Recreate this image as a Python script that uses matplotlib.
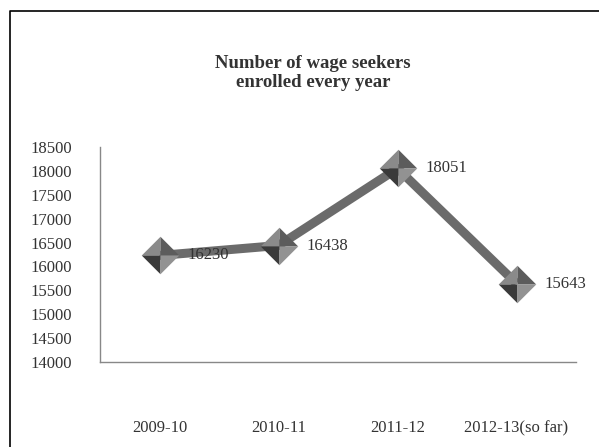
import matplotlib
matplotlib.use('Agg')
import matplotlib.pyplot as plt
from matplotlib.lines import Line2D

years = ['2009-10', '2010-11', '2011-12', '2012-13(so far)']
seekers = [16230, 16438, 18051, 15643]
yticks = [14000, 14500, 15000, 15500, 16000, 16500, 17000, 17500, 18000, 18500]

plt.rcParams['font.family'] = ['Liberation Serif', 'DejaVu Serif']

W, H = 599, 447
fig = plt.figure(figsize=(W / 100, H / 100), dpi=100)
# frame: only top and left edges are visible in the original
fig.lines.append(Line2D([9.5 / W, 9.5 / W, 1], [0, 1 - 10.5 / H, 1 - 10.5 / H],
                        transform=fig.transFigure, color='black', linewidth=1.2))

ax = fig.add_axes([100 / W, 85 / H, 476 / W, 215 / H])
x = list(range(len(years)))
ax.plot(x, seekers, color='#6b6b6b', linewidth=6.5, solid_capstyle='butt', zorder=2)

# pyramid-like diamond markers, four shaded facets
facets = [
    ([(0, 0), (-1, 0), (0, 1), (0, 0)], '#8a8a8a'),
    ([(0, 0), (0, 1), (1, 0), (0, 0)], '#5c5c5c'),
    ([(0, 0), (-1, 0), (0, -1), (0, 0)], '#3a3a3a'),
    ([(0, 0), (1, 0), (0, -1), (0, 0)], '#929292'),
]
for verts, col in facets:
    ax.plot(x, seekers, linestyle='none', marker=verts, markersize=27,
            markerfacecolor=col, markeredgewidth=0, zorder=3)

for xi, v in zip(x, seekers):
    ax.annotate(str(v), (xi, v), xytext=(20, 0), textcoords='offset points',
                ha='left', va='center', fontsize=12, color='#333333')

ax.set_xlim(-0.5, len(years) - 0.5)
ax.set_ylim(14000, 18500)
ax.set_yticks(yticks)
ax.set_xticks(x)
ax.set_xticklabels(years)
ax.tick_params(length=0, labelsize=12, colors='#333333')
ax.tick_params(axis='x', pad=42)
ax.tick_params(axis='y', pad=20)
for s in ['top', 'right']:
    ax.spines[s].set_visible(False)
for s in ['left', 'bottom']:
    ax.spines[s].set_color('#888888')
    ax.spines[s].set_linewidth(1)

fig.text(313 / W, 1 - 73 / H, 'Number of wage seekers\nenrolled every year',
         ha='center', va='center', fontsize=13.5, fontweight='bold',
         color='#333333', linespacing=1.2)

fig.savefig('out.png', dpi=100)
